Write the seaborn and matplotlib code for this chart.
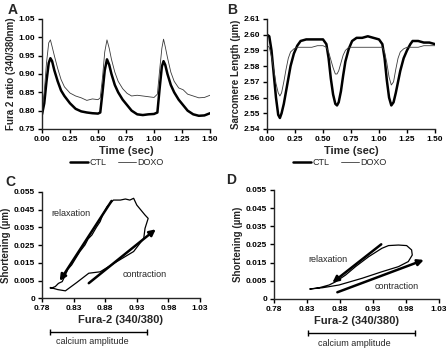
import matplotlib
matplotlib.use("Agg")
import matplotlib.pyplot as plt
import matplotlib.transforms as mtransforms
import pandas as pd
import seaborn as sns

# Panel A - Fura-2 ratio (340/380nm)
tiempo_a = [0.00, 0.02, 0.04, 0.06, 0.075, 0.09, 0.11, 0.14, 0.17, 0.20, 0.25, 0.30,
            0.35, 0.40, 0.45, 0.50, 0.52, 0.54, 0.56, 0.58, 0.60, 0.62, 0.65, 0.68,
            0.72, 0.76, 0.80, 0.85, 0.90, 0.95, 1.00, 1.03, 1.05, 1.07, 1.085, 1.10,
            1.12, 1.15, 1.18, 1.22, 1.26, 1.30, 1.35, 1.40, 1.45, 1.50]
fura_ctl = [0.790, 0.820, 0.880, 0.930, 0.943, 0.935, 0.910, 0.880, 0.855, 0.840, 0.820, 0.805,
            0.798, 0.795, 0.793, 0.792, 0.795, 0.850, 0.910, 0.940, 0.925, 0.900, 0.870, 0.850,
            0.830, 0.815, 0.800, 0.790, 0.788, 0.790, 0.791, 0.795, 0.860, 0.920, 0.935, 0.925,
            0.900, 0.870, 0.850, 0.830, 0.815, 0.800, 0.790, 0.786, 0.787, 0.793]
fura_doxo = [0.800, 0.850, 0.930, 0.985, 0.993, 0.975, 0.950, 0.915, 0.885, 0.865, 0.848, 0.840,
             0.835, 0.828, 0.832, 0.830, 0.835, 0.890, 0.960, 0.993, 0.970, 0.940, 0.905, 0.880,
             0.860, 0.847, 0.840, 0.842, 0.840, 0.838, 0.836, 0.845, 0.910, 0.970, 0.995, 0.975,
             0.945, 0.905, 0.880, 0.862, 0.857, 0.845, 0.840, 0.835, 0.836, 0.842]

# Panel B - longitud de sarcomero (um)
tiempo_b = [0.00, 0.02, 0.04, 0.06, 0.08, 0.10, 0.115, 0.13, 0.15, 0.17, 0.19, 0.21,
            0.24, 0.27, 0.30, 0.35, 0.40, 0.45, 0.50, 0.53, 0.55, 0.57, 0.59, 0.61,
            0.625, 0.64, 0.66, 0.68, 0.70, 0.73, 0.76, 0.80, 0.85, 0.90, 0.95, 1.00,
            1.03, 1.05, 1.07, 1.09, 1.11, 1.13, 1.15, 1.17, 1.19, 1.22, 1.25, 1.28,
            1.30, 1.35, 1.40, 1.45, 1.50]
sl_ctl = [2.600, 2.599, 2.590, 2.575, 2.560, 2.549, 2.547, 2.550, 2.556, 2.564, 2.572, 2.580,
          2.588, 2.593, 2.596, 2.597, 2.597, 2.597, 2.597, 2.594, 2.585, 2.572, 2.562, 2.556,
          2.555, 2.557, 2.564, 2.574, 2.583, 2.591, 2.596, 2.598, 2.598, 2.599, 2.598, 2.597,
          2.594, 2.585, 2.571, 2.560, 2.555, 2.557, 2.563, 2.570, 2.577, 2.585, 2.590, 2.594,
          2.596, 2.596, 2.595, 2.595, 2.594]
sl_doxo = [2.593, 2.592, 2.586, 2.578, 2.569, 2.563, 2.561, 2.563, 2.570, 2.578, 2.585, 2.589,
           2.591, 2.592, 2.592, 2.592, 2.592, 2.593, 2.593, 2.592, 2.589, 2.584, 2.579, 2.575,
           2.575, 2.577, 2.582, 2.587, 2.590, 2.592, 2.592, 2.592, 2.592, 2.592, 2.592, 2.592,
           2.592, 2.589, 2.582, 2.573, 2.568, 2.570, 2.578, 2.585, 2.589, 2.591, 2.592, 2.592,
           2.592, 2.592, 2.593, 2.593, 2.593]

# Panel C - lazo CTL (Fura-2 vs acortamiento)
fura_c = [0.793, 0.805, 0.817, 0.835, 0.854, 0.872, 0.895, 0.925, 0.941, 0.943, 0.948, 0.943,
          0.930, 0.925, 0.919, 0.912, 0.904, 0.893, 0.883, 0.876, 0.872, 0.866, 0.859, 0.853,
          0.848, 0.840, 0.834, 0.827, 0.821, 0.817, 0.812, 0.806, 0.801, 0.796, 0.793]
acort_c = [0.0012, 0.0000, -0.0007, 0.0040, 0.0092, 0.0100, 0.0150, 0.0214, 0.0288, 0.0344, 0.0400, 0.0419,
           0.0475, 0.0513, 0.0503, 0.0509, 0.0503, 0.0503, 0.0466, 0.0420, 0.0382, 0.0350, 0.0307, 0.0285,
           0.0251, 0.0214, 0.0180, 0.0139, 0.0115, 0.0083, 0.0045, 0.0035, 0.0017, 0.0010, 0.0008]

# Panel D - lazo DOXO
fura_d = [0.8345, 0.8535, 0.8785, 0.9135, 0.9435, 0.9685, 0.9835, 0.9895, 0.9885, 0.9810, 0.9685,
          0.9535, 0.9435, 0.9235, 0.9035, 0.8885, 0.8735, 0.8635, 0.8485, 0.8345]
acort_d = [0.0005, 0.0012, 0.0027, 0.0064, 0.0100, 0.0128, 0.0156, 0.0192, 0.0220, 0.0244, 0.0247,
           0.0244, 0.0229, 0.0183, 0.0128, 0.0082, 0.0045, 0.0027, 0.0012, 0.0005]

# Flechas (inicio, fin) y barras de amplitud de calcio
flecha_relax_c = [(0.890, 0.0498), (0.808, 0.0049)]
flecha_contr_c = [(0.854, 0.0036), (0.960, 0.0339)]
flecha_relax_d = [(0.9425, 0.0251), (0.8685, 0.0040)]
flecha_contr_d = [(0.876, -0.0013), (1.007, 0.0165)]
amplitud_c = [0.792, 0.946]
amplitud_d = [0.831, 0.9935]

ticks_tiempo = [0.00, 0.25, 0.50, 0.75, 1.00, 1.25, 1.50]
ticks_fura_a = [0.75, 0.80, 0.85, 0.90, 0.95, 1.00, 1.05]
ticks_sl = [2.54, 2.55, 2.56, 2.57, 2.58, 2.59, 2.60, 2.61]
ticks_fura_cd = [0.78, 0.83, 0.88, 0.93, 0.98, 1.03]
ticks_acort = [-0.005, 0.005, 0.015, 0.025, 0.035, 0.045, 0.055]
etiquetas_acort = ["0", "0.005", "0.015", "0.025", "0.035", "0.045", "0.055"]

sns.set_style("ticks")
plt.rcParams["font.family"] = ["Liberation Sans", "DejaVu Sans"]
plt.rcParams["axes.linewidth"] = 1.0
plt.rcParams["xtick.major.width"] = 1.0
plt.rcParams["ytick.major.width"] = 1.0
plt.rcParams["xtick.major.size"] = 3
plt.rcParams["ytick.major.size"] = 3

fig = plt.figure(figsize=(4.46, 3.49), dpi=100)
ax_a = fig.add_axes([0.0942, 0.6304, 0.3767, 0.3152])
ax_b = fig.add_axes([0.5987, 0.6304, 0.3766, 0.3152])
ax_c = fig.add_axes([0.0942, 0.1447, 0.3542, 0.3060])
ax_d = fig.add_axes([0.6143, 0.1433, 0.3700, 0.3123])


def estilo_ejes(ax, xticks, xfmt, yticks, ylabels, xlabel, ylabel):
    ax.set_xticks(xticks)
    ax.set_xticklabels([xfmt % v for v in xticks], fontsize=6, fontweight="bold")
    ax.set_yticks(yticks)
    ax.set_yticklabels(ylabels, fontsize=6, fontweight="bold")
    ax.set_xlim(xticks[0], xticks[-1])
    ax.set_ylim(yticks[0], yticks[-1])
    ax.set_xlabel(xlabel, fontsize=8, fontweight="bold", labelpad=2)
    ax.set_ylabel(ylabel, fontsize=7, fontweight="bold", labelpad=2)
    ax.tick_params(pad=2, colors="black")
    sns.despine(ax=ax)


def trazos(ax, t, ctl, doxo, centro):
    sns.lineplot(x=t, y=ctl, ax=ax, color="black", lw=1.8, label="CTL")
    sns.lineplot(x=t, y=doxo, ax=ax, color="#3a3a3a", lw=0.6, label="DOXO")
    ax.legend(loc="center", bbox_to_anchor=(centro, 0.533), bbox_transform=fig.transFigure,
              ncol=2, frameon=False, fontsize=6.5, handlelength=2.0, handletextpad=0.2,
              columnspacing=1.2, borderpad=0)


trazos(ax_a, tiempo_a, fura_ctl, fura_doxo, 0.262)
estilo_ejes(ax_a, ticks_tiempo, "%.2f", ticks_fura_a, ["%.2f" % v for v in ticks_fura_a],
            "Time (sec)", "Fura 2 ratio (340/380nm)")

trazos(ax_b, tiempo_b, sl_ctl, sl_doxo, 0.762)
estilo_ejes(ax_b, ticks_tiempo, "%.2f", ticks_sl, ["%.2f" % v for v in ticks_sl],
            "Time (sec)", "Sarcomere Length (\u00b5m)")


def lazo(ax, x, y, relax, contr, amp, pos_relax, pos_contr):
    sns.lineplot(x=x, y=y, ax=ax, sort=False, estimator=None, color="black", lw=0.9)
    for ini, fin in (relax, contr):
        ax.annotate("", xy=fin, xytext=ini,
                    arrowprops=dict(arrowstyle="-|>", lw=1.8, color="black",
                                    mutation_scale=9, shrinkA=0, shrinkB=0))
    ax.text(pos_relax[0], pos_relax[1], "relaxation", fontsize=6.5, ha="center", va="center")
    ax.text(pos_contr[0], pos_contr[1], "contraction", fontsize=6.5, ha="center", va="center")
    mezcla = mtransforms.blended_transform_factory(ax.transData, ax.transAxes)
    ax.plot(amp, [-0.315, -0.315], transform=mezcla, clip_on=False, color="black",
            lw=1.0, marker="|", markersize=5)
    ax.text(sum(amp) / 2 - 0.01, -0.405, "calcium amplitude", transform=mezcla,
            fontsize=6.5, ha="center", va="center")
    estilo_ejes(ax, ticks_fura_cd, "%.2f", ticks_acort, etiquetas_acort,
                "Fura-2 (340/380)", "Shortening (\u00b5m)")


lazo(ax_c, fura_c, acort_c, flecha_relax_c, flecha_contr_c, amplitud_c,
     (0.826, 0.0425), (0.943, 0.0083))
lazo(ax_d, fura_d, acort_d, flecha_relax_d, flecha_contr_d, amplitud_d,
     (0.861, 0.0170), (0.966, 0.0018))

for letra, x, y in (("A", 0.018, 0.99), ("B", 0.51, 0.99), ("C", 0.012, 0.50), ("D", 0.508, 0.505)):
    fig.text(x, y, letra, fontsize=10, fontweight="bold", va="top")

fig.savefig("out.png", dpi=100)
